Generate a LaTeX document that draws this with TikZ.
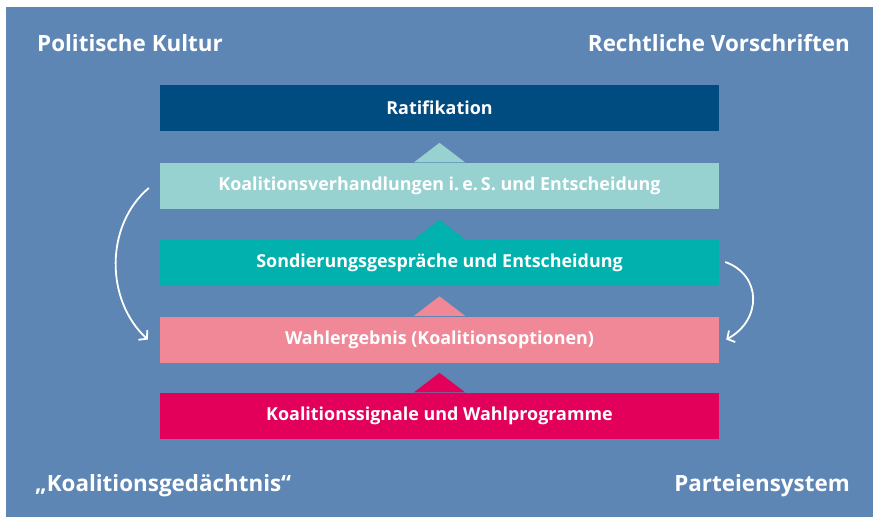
\documentclass[tikz,border=0pt]{standalone}
\usepackage{fontspec}
\setmainfont{Open Sans}
\usetikzlibrary{arrows.meta}
\definecolor{bg}{HTML}{5D86B4}
\definecolor{cRat}{HTML}{004B80}
\definecolor{cKoa}{HTML}{97D2D1}
\definecolor{cSon}{HTML}{00B1AD}
\definecolor{cWah}{HTML}{F08898}
\definecolor{cSig}{HTML}{E3005B}
\begin{document}
\begin{tikzpicture}[x=1pt,y=-1pt,
  stage/.style={fill=#1, text=white, font=\fontsize{17.9}{21}\selectfont\bfseries,
    minimum width=559pt, minimum height=46pt, inner sep=0pt, anchor=center},
  corner/.style={text=white, font=\fontsize{22.4}{26}\selectfont\bfseries, inner sep=0pt},
  tip/.style={fill=#1},
  flow/.style={draw=white, line width=1.8pt, -{Straight Barb[length=5.5pt,width=13pt]}}]
\useasboundingbox (0,0) rectangle (877,523);
\fill[white] (0,0) rectangle (877,523);
\fill[bg] (6,7) rectangle (873,517);
% corner labels
\node[corner, anchor=base west] (pk) at (37,51) {Politische Kultur};
\node[corner, anchor=base east] (rv) at (850,51) {Rechtliche Vorschriften};
\node[corner, anchor=base west] (kg) at (35,491) {„Koalitionsgedächtnis“};
\node[corner, anchor=base east] (ps) at (850,491) {Parteiensystem};
% stages
\node[stage=cRat] (rat) at (439.5,108) {Ratifikation};
\node[stage=cKoa] (koa) at (439.5,186) {Koalitionsverhandlungen i.\,e.\,S. und Entscheidung};
\node[stage=cSon] (son) at (439.5,263) {Sondierungsgespräche und Entscheidung};
\node[stage=cWah] (wah) at (439.5,339.5) {Wahlergebnis (Koalitionsoptionen)};
\node[stage=cSig] (sig) at (439.5,416) {Koalitionssignale und Wahlprogramme};
% tips
\foreach \n/\c in {koa/cKoa,son/cSon,wah/cWah,sig/cSig}{
  \fill[tip=\c] ([xshift=-25.5pt,yshift=0.5pt]\n.north) -- ([yshift=20pt]\n.north) -- ([xshift=25.5pt,yshift=0.5pt]\n.north) -- cycle;
}
% curved arrows
\coordinate (l1) at ([xshift=-11pt,yshift=-2pt]koa.west);
\coordinate (l2) at ([xshift=-12pt]wah.west);
\coordinate (r1) at ([xshift=6pt,yshift=1pt]son.east);
\coordinate (r2) at ([xshift=7pt]wah.east);
\draw[flow] (l1) .. controls (105,225) and (105,300) .. (l2);
\draw[flow] (r1) .. controls (762,275) and (762,320) .. (r2);
\end{tikzpicture}
\end{document}
